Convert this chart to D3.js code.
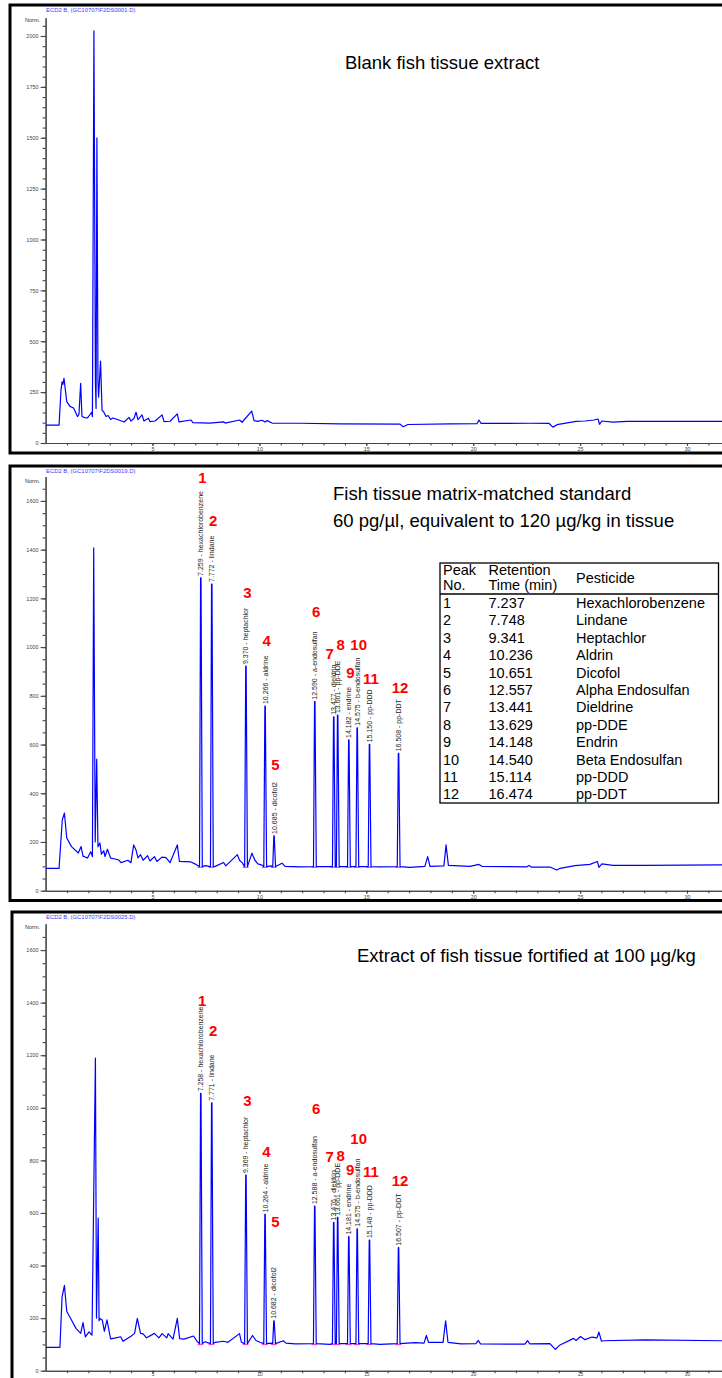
<!DOCTYPE html>
<html>
<head>
<meta charset="utf-8">
<script src="https://cdn.jsdelivr.net/npm/d3@7"></script>
<style>
body { margin: 0; background: #fff; }
svg { display: block; font-family: "Liberation Sans", Arial, sans-serif; }
</style>
</head>
<body>
<script>
// ---- data (time in min, signal in Norm.) ----
var xTicks = [5, 10, 15, 20, 25, 30];
var yTicks1 = [0, 250, 500, 750, 1000, 1250, 1500, 1750, 2000];
var yTicks2 = [0, 200, 400, 600, 800, 1000, 1200, 1400, 1600];
var yTicks3 = [0, 200, 400, 600, 800, 1000, 1200, 1400, 1600];

// blank extract trace
var trace1 = [[0,88],[0.63,88],[0.72,260],[0.77,300],[0.81,288],[0.86,318],[0.99,203],[1.14,180],[1.31,172],[1.49,130],
  [1.56,140],[1.64,293],[1.70,130],[1.84,125],[1.96,123],[2.08,140],[2.15,150],[2.19,130],[2.26,2025],[2.33,300],
  [2.36,170],[2.40,1500],[2.45,300],[2.48,225],[2.57,403],[2.64,162],[2.73,150],[2.83,130],[2.92,135],[3.04,116],
  [3.15,123],[3.43,113],[3.67,103],[3.90,126],[3.99,108],[4.13,120],[4.23,151],[4.32,115],[4.51,138],[4.60,108],
  [4.81,122],[4.88,105],[5.12,108],[5.45,138],[5.54,105],[5.82,107],[6.16,143],[6.24,104],[6.80,113],[6.89,100],
  [7.69,98],[8.32,104],[8.40,98],[9.07,113],[9.19,102],[9.64,157],[9.75,110],[9.93,106],[10.12,112],[10.26,103],
  [10.36,110],[10.59,98],[11.9,97],[13.77,94],[16.58,93],[16.72,80],[16.95,91],[18.92,94],[20.18,95],[20.27,113],
  [20.37,96],[22.66,97],[23.55,96],[23.73,78],[23.92,90],[24.81,106],[25.23,108],[25.65,113],[25.84,118],[25.91,92],
  [26.02,108],[26.54,103],[27.20,106],[33,106]];

// matrix-matched standard: background trace + pesticide peaks
var trace2 = [[0,92],[0.63,92],[0.78,290],[0.88,319],[0.99,216],[1.21,181],[1.53,155],[1.66,181],[1.75,142],[1.96,134],
  [2.11,160],[2.19,140],[2.25,1407],[2.32,200],[2.39,540],[2.45,180],[2.54,196],[2.61,150],[2.72,164],[2.78,140],
  [2.89,170],[3.04,134],[3.25,130],[3.43,126],[3.53,115],[3.85,125],[3.99,115],[4.12,188],[4.23,167],[4.32,135],
  [4.44,148],[4.56,125],[4.77,144],[4.88,122],[5.09,140],[5.21,120],[5.44,138],[5.63,136],[5.82,115],[6.16,188],
  [6.26,120],[6.80,118],[7.03,108],[7.46,103],[7.93,100],[8.32,116],[8.43,102],[8.97,148],[9.07,125],[9.19,115],
  [9.65,154],[9.79,125],[9.93,110],[10.12,105],[10.54,102],[11.06,113],[11.20,100],[11.90,98],[15.64,98],[17.04,96],
  [17.74,100],[17.87,140],[17.98,100],[18.63,102],[18.73,188],[18.84,104],[19.85,100],[20.27,108],[20.41,100],
  [22.52,98],[22.61,104],[22.71,97],[23.59,97],[23.91,85],[24.06,92],[24.76,103],[25.46,108],[25.81,120],[25.88,96],
  [26.02,110],[26.54,104],[28.04,104],[31.64,106],[33,106]];
var peakNo = [1, 2, 3, 4, 5, 6, 7, 8, 9, 10, 11, 12];
var rt2 = [7.259, 7.772, 9.370, 10.266, 10.685, 12.590, 13.477, 13.661, 14.182, 14.575, 15.150, 16.508];
var height2 = [1284, 1259, 922, 758, 225, 776, 714, 721, 619, 669, 601, 564];
var peakName = ["hexachlorobenzene", "lindane", "heptachlor", "aldrine", "dicofol2", "a-endosulfan",
  "dieldrin", "pp-DDE", "endrine", "b-endosulfan", "pp-DDD", "pp-DDT"];
var numLevel2 = [1674, 1497, 1202, 1005, 496, 1124, 951, 988, 873, 988, 849, 812];

// fortified extract
var trace3 = [[0,89],[0.67,89],[0.77,280],[0.88,325],[0.99,225],[1.21,193],[1.42,161],[1.64,142],[1.75,183],[1.86,129],
  [2.03,148],[2.17,135],[2.33,1189],[2.38,200],[2.46,580],[2.50,190],[2.54,199],[2.65,193],[2.75,150],[2.87,193],
  [3.04,121],[3.29,125],[3.51,129],[3.62,112],[4.01,132],[4.16,142],[4.29,199],[4.44,142],[4.56,140],[4.72,125],
  [5.09,142],[5.30,125],[5.45,141],[5.67,125],[5.73,141],[5.96,120],[6.16,199],[6.27,122],[6.47,120],[6.92,132],
  [7.08,112],[7.46,110],[7.93,108],[8.32,112],[8.53,108],[9.07,141],[9.16,108],[9.68,134],[9.84,115],[10.03,108],
  [10.54,105],[11.12,114],[11.24,105],[11.67,102],[13.30,100],[15.64,100],[16.58,105],[17.26,107],[17.70,105],
  [17.81,134],[17.91,108],[18.59,108],[18.71,190],[18.82,108],[19.43,102],[20.13,103],[20.24,115],[20.34,102],
  [22.42,101],[22.54,114],[22.65,102],[23.59,103],[23.84,81],[24.06,98],[24.70,123],[24.81,115],[25.02,130],
  [25.23,118],[25.56,128],[25.79,125],[25.88,147],[26.00,112],[26.10,114],[28.04,117],[31.64,114],[33,114]];
var rt3 = [7.258, 7.771, 9.369, 10.264, 10.682, 12.588, 13.476, 13.661, 14.181, 14.575, 15.148, 16.507];
var height3 = [1055, 1019, 744, 595, 190, 626, 564, 583, 510, 540, 497, 468];
var numLevel3 = [1387, 1273, 1008, 814, 547, 976, 795, 798, 744, 862, 736, 702];

// peak table
var tableNo = ["1", "2", "3", "4", "5", "6", "7", "8", "9", "10", "11", "12"];
var tableRT = ["7.237", "7.748", "9.341", "10.236", "10.651", "12.557", "13.441", "13.629", "14.148", "14.540", "15.114", "16.474"];
var tablePesticide = ["Hexachlorobenzene", "Lindane", "Heptachlor", "Aldrin", "Dicofol", "Alpha Endosulfan",
  "Dieldrine", "pp-DDE", "Endrin", "Beta Endosulfan", "pp-DDD", "pp-DDT"];

// ---- layout ----
var svg = d3.select("body").append("svg").attr("width", 722).attr("height", 1378);

var x = d3.scaleLinear().domain([0, 33]).range([45.6, 45.6 + 33 * 21.38]);

var panels = [
  { left: 10, top: 5, bottom: 453, y0: 443, k: 0.2035, yTop: 2090, ticks: yTicks1, file: "ECD2 B, (GC10707\\F2DS0001.D)",
    title: ["Blank fish tissue extract"], tx: 345, ty: 68.5, trace: trace1 },
  { left: 10, top: 466, bottom: 900.5, y0: 890.7, k: 0.2436, yTop: 1700, ticks: yTicks2, file: "ECD2 B, (GC10707\\F2DS0019.D)",
    title: ["Fish tissue matrix-matched standard", "60 pg/\u00b5l, equivalent to 120 \u00b5g/kg in tissue"], tx: 333, ty: 499.5,
    trace: trace2, rt: rt2, h: height2, lvl: numLevel2, base: 99 },
  { left: 12, top: 912, bottom: 1390, y0: 1370.7, k: 0.2629, yTop: 1700, ticks: yTicks3, file: "ECD2 B,  (GC10707\\F2DS0025.D)",
    title: ["Extract of fish tissue fortified at 100 \u00b5g/kg"], tx: 357, ty: 961.5,
    trace: trace3, rt: rt3, h: height3, lvl: numLevel3, base: 103 }
];

var numNudge = { 7: -4, 8: 3 };

panels.forEach(function(p, pi) {
  var g = svg.append("g");
  var y = d3.scaleLinear().domain([0, p.yTop]).range([p.y0, p.y0 - p.yTop * p.k]);
  var last = pi === panels.length - 1;

  g.append("rect")
    .attr("x", p.left).attr("y", p.top)
    .attr("width", 800).attr("height", p.bottom - p.top)
    .style("fill", "white").style("stroke", "black").style("stroke-width", 3);

  g.append("text")
    .attr("x", 46).attr("y", p.top + 7)
    .text(p.file)
    .style("font-size", "5.9px").style("fill", "#3a3aff");

  g.append("text")
    .attr("x", 40).attr("y", p.top + 17)
    .attr("text-anchor", "end")
    .text("Norm.")
    .style("font-size", "5.5px").style("fill", "#333");

  // y axis: minor then major ticks
  var yMinor = g.append("g").attr("transform", "translate(45.6,0)")
    .call(d3.axisLeft(y).tickValues(d3.range(0, p.yTop, 50)).tickSize(3).tickSizeOuter(0).tickFormat(""));
  var yMajor = g.append("g").attr("transform", "translate(45.6,0)")
    .call(d3.axisLeft(y).tickValues(p.ticks).tickSize(5).tickSizeOuter(0).tickPadding(2).tickFormat(d3.format("d")));
  [yMinor, yMajor].forEach(function(a) {
    a.attr("font-size", 5.5).attr("font-family", null).style("color", "#444");
    a.selectAll("path,line").style("stroke-width", 1.1);
  });

  // x axis
  var xMinor = g.append("g").attr("transform", "translate(0," + p.y0 + ")")
    .call(d3.axisBottom(x).tickValues(d3.range(1, 33, 1)).tickSize(2.5).tickSizeOuter(0).tickFormat(""));
  var xMajor = g.append("g").attr("transform", "translate(0," + p.y0 + ")")
    .call(d3.axisBottom(x).tickValues(xTicks).tickSize(last ? 2 : 3).tickSizeOuter(0).tickPadding(last ? 0 : 1));
  [xMinor, xMajor].forEach(function(a) {
    a.attr("font-size", last ? 4.8 : 5.5).attr("font-family", null).style("color", "#444");
    a.selectAll("path,line").style("stroke-width", 1.1);
  });

  // title
  p.title.forEach(function(t, i) {
    g.append("text")
      .attr("x", p.tx).attr("y", p.ty + i * 27)
      .text(t)
      .style("font-size", "18.5px").style("fill", "black");
  });

  var clipId = "clip" + pi;
  svg.append("clipPath").attr("id", clipId).append("rect")
    .attr("x", 46).attr("y", p.top + 2).attr("width", 800).attr("height", p.y0 - p.top - 2);

  // build trace: background points plus narrow peaks
  var pts = p.trace.slice();
  if (p.rt) {
    pts = pts.filter(function(d) {
      return !p.rt.some(function(r) { return Math.abs(d[0] - r) < 0.08; });
    });
    p.rt.forEach(function(r, i) {
      pts.push([r - 0.06, p.base], [r - 0.01, p.h[i]], [r + 0.01, p.h[i]], [r + 0.07, p.base]);
    });
    pts.sort(function(a, b) { return a[0] - b[0]; });

    // integration baseline marks
    g.selectAll("line.integ").data(p.rt).enter()
      .append("line")
      .attr("x1", function(d) { return x(d - 0.15); })
      .attr("x2", function(d) { return x(d + 0.12); })
      .attr("y1", y(p.base - 3)).attr("y2", y(p.base - 3))
      .style("stroke", "#ff48d0").style("stroke-width", 1.4);
  }

  var line = d3.line().x(function(d) { return x(d[0]); }).y(function(d) { return y(d[1]); });
  g.append("path")
    .attr("clip-path", "url(#" + clipId + ")")
    .attr("d", line(pts))
    .style("fill", "none").style("stroke", "#0000ff").style("stroke-width", 1.2)
    .style("stroke-linejoin", "round");

  if (p.rt) {
    // rotated peak labels
    g.selectAll("text.plab").data(p.rt).enter()
      .append("text")
      .attr("transform", function(d, i) {
        return "translate(" + (x(d) + 2.5) + "," + (y(p.h[i]) - 2) + ") rotate(-90)";
      })
      .text(function(d, i) { return d.toFixed(3) + " -  " + peakName[i]; })
      .style("font-size", "7px").style("fill", "#222");

    // red peak numbers
    g.selectAll("text.pnum").data(peakNo).enter()
      .append("text")
      .attr("x", function(d, i) { return x(p.rt[i]) + (numNudge[d] !== undefined ? numNudge[d] : 1.5); })
      .attr("y", function(d, i) { return y(p.lvl[i]); })
      .attr("text-anchor", "middle")
      .text(function(d) { return d; })
      .style("font-size", "15px").style("font-weight", "bold").style("fill", "#ff0000");
  }
});

// ---- peak table in the standard panel ----
var table = svg.append("g");
table.append("rect")
  .attr("x", 440).attr("y", 563).attr("width", 278.5).attr("height", 240)
  .style("fill", "white").style("stroke", "black").style("stroke-width", 1.3);
table.append("line")
  .attr("x1", 440).attr("x2", 718.5).attr("y1", 594).attr("y2", 594)
  .style("stroke", "black").style("stroke-width", 1.3);

var head = [["Peak", 443, 575], ["No.", 443, 590], ["Retention", 488.5, 575], ["Time (min)", 488.5, 590], ["Pesticide", 576, 583]];
table.selectAll("text.head").data(head).enter()
  .append("text")
  .attr("x", function(d) { return d[1]; })
  .attr("y", function(d) { return d[2]; })
  .text(function(d) { return d[0]; })
  .style("font-size", "14.5px");

var rowY = d3.scaleBand().domain(tableNo).range([594, 803]);
[[tableNo, 443], [tableRT, 488.5], [tablePesticide, 576]].forEach(function(col) {
  table.append("g").selectAll("text").data(col[0]).enter()
    .append("text")
    .attr("x", col[1])
    .attr("y", function(d, i) { return rowY(tableNo[i]) + rowY.bandwidth() / 2 + 5.2; })
    .text(function(d) { return d; })
    .style("font-size", "14.5px");
});
</script>
</body>
</html>
